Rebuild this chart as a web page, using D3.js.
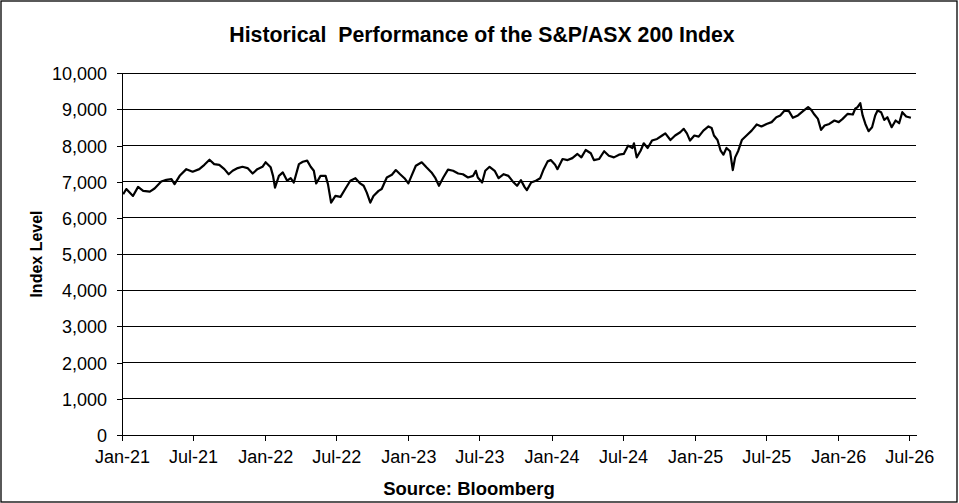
<!DOCTYPE html>
<html>
<head>
<meta charset="utf-8">
<script src="https://cdn.jsdelivr.net/npm/d3@7"></script>
<style>
  body { margin: 0; background: #fff; }
  text { font-family: "Liberation Sans", Arial, sans-serif; fill: #000; }
</style>
</head>
<body>
<div id="chart"></div>
<script>
// S&P/ASX 200 index level
const dates = [
  "2021-01-04","2021-01-12","2021-01-29","2021-02-11","2021-02-24","2021-03-13","2021-03-25","2021-04-11","2021-04-24","2021-05-07",
  "2021-05-15","2021-05-28","2021-06-14","2021-06-30","2021-07-17","2021-07-30","2021-08-12","2021-08-24","2021-09-06","2021-09-19",
  "2021-09-30","2021-10-10","2021-10-23","2021-11-04","2021-11-17","2021-11-30","2021-12-12","2021-12-25","2022-01-02","2022-01-15",
  "2022-01-21","2022-01-26","2022-02-05","2022-02-15","2022-02-26","2022-03-07","2022-03-15","2022-03-28","2022-04-07","2022-04-18",
  "2022-04-27","2022-05-05","2022-05-11","2022-05-22","2022-06-04","2022-06-10","2022-06-18","2022-06-29","2022-07-12","2022-07-24",
  "2022-08-06","2022-08-19","2022-08-31","2022-09-09","2022-09-17","2022-09-26","2022-10-04","2022-10-17","2022-10-25","2022-11-07",
  "2022-11-20","2022-11-30","2022-12-11","2022-12-22","2023-01-01","2023-01-09","2023-01-20","2023-02-04","2023-02-16","2023-03-01",
  "2023-03-11","2023-03-20","2023-03-31","2023-04-12","2023-04-25","2023-05-08","2023-05-20","2023-06-02","2023-06-15","2023-06-22",
  "2023-06-27","2023-07-08","2023-07-16","2023-07-27","2023-08-09","2023-08-19","2023-09-01","2023-09-13","2023-09-24","2023-10-05",
  "2023-10-15","2023-10-24","2023-10-30","2023-11-10","2023-11-22","2023-12-03","2023-12-12","2023-12-22","2023-12-30","2024-01-10",
  "2024-01-16","2024-01-29","2024-02-11","2024-02-23","2024-03-07","2024-03-17","2024-03-28","2024-04-10","2024-04-18","2024-05-01",
  "2024-05-14","2024-05-26","2024-06-08","2024-06-21","2024-07-03","2024-07-14","2024-07-25","2024-07-29","2024-08-05","2024-08-15",
  "2024-08-23","2024-09-02","2024-09-13","2024-09-26","2024-10-09","2024-10-17","2024-10-30","2024-11-11","2024-11-24","2024-12-03",
  "2024-12-11","2024-12-19","2024-12-30","2025-01-10","2025-01-22","2025-02-04","2025-02-12","2025-02-18","2025-02-27","2025-03-07",
  "2025-03-14","2025-03-22","2025-03-31","2025-04-07","2025-04-13","2025-04-21","2025-04-30","2025-05-12","2025-05-25","2025-06-07",
  "2025-06-19","2025-07-02","2025-07-15","2025-07-27","2025-08-06","2025-08-17","2025-08-28","2025-09-07","2025-09-20","2025-10-03",
  "2025-10-16","2025-10-24","2025-11-01","2025-11-10","2025-11-18","2025-11-27","2025-12-09","2025-12-22","2026-01-02","2026-01-12",
  "2026-01-25","2026-02-07","2026-02-13","2026-02-19","2026-02-26","2026-03-04","2026-03-11","2026-03-19","2026-03-28","2026-04-05",
  "2026-04-11","2026-04-20","2026-04-28","2026-05-06","2026-05-17","2026-05-27","2026-06-05","2026-06-13","2026-06-23","2026-07-05"
];
const values = [
  6657,6800,6610,6860,6750,6730,6815,7010,7055,7075,
  6935,7165,7350,7280,7350,7470,7610,7490,7470,7350,
  7210,7305,7380,7415,7380,7230,7350,7415,7540,7400,
  7165,6840,7165,7260,7030,7100,6980,7490,7555,7585,
  7415,7305,6955,7165,7165,6935,6425,6610,6585,6800,
  7030,7100,6955,6890,6700,6425,6610,6750,6800,7120,
  7195,7325,7210,7100,6955,7165,7445,7540,7400,7260,
  7100,6890,7120,7335,7305,7230,7210,7120,7165,7305,
  7120,6980,7305,7415,7305,7100,7210,7165,7010,6890,
  7045,6860,6770,6980,7030,7100,7350,7565,7600,7470,
  7350,7630,7600,7655,7770,7675,7880,7790,7600,7630,
  7845,7720,7675,7750,7770,8000,7935,8065,7675,7860,
  8065,7935,8140,8185,8280,8340,8155,8280,8370,8465,
  8340,8140,8280,8250,8415,8530,8490,8280,8155,7860,
  7750,7935,7845,7325,7675,7860,8155,8280,8415,8585,
  8530,8600,8650,8785,8835,8970,8955,8770,8835,8955,
  9065,8990,8860,8740,8435,8555,8600,8695,8650,8740,
  8880,8860,9020,9065,9175,8835,8600,8400,8510,8835,
  8970,8925,8710,8785,8510,8695,8620,8925,8805,8770
];
const yTicks = [0,1000,2000,3000,4000,5000,6000,7000,8000,9000,10000];
const xTickDates = ["2021-01-01","2021-07-01","2022-01-01","2022-07-01","2023-01-01","2023-07-01",
  "2024-01-01","2024-07-01","2025-01-01","2025-07-01","2026-01-01","2026-07-01"];
const xDomain = ["2021-01-01","2026-07-18"];
const title = "Historical  Performance of the S&P/ASX 200 Index";
const yTitle = "Index Level";
const source = "Source: Bloomberg";

const width = 959, height = 503;
const margin = ({ top: 73.3, right: 43, bottom: 68, left: 122 });
const parse = d3.timeParse("%Y-%m-%d");

const data = dates.map((d, i) => ({ date: parse(d), value: values[i] }));

const svg = d3.select("#chart").append("svg")
  .attr("width", width)
  .attr("height", height)
  .attr("viewBox", [0, 0, width, height]);

svg.append("rect")
  .attr("x", 1).attr("y", 1)
  .attr("width", width - 3).attr("height", height - 2)
  .attr("fill", "#fff").attr("stroke", "#000").attr("stroke-width", 1.3);

const x = d3.scaleTime()
  .domain(xDomain.map(parse))
  .range([margin.left, width - margin.right]);

const y = d3.scaleLinear()
  .domain([0, 10000])
  .range([height - margin.bottom, margin.top]);

// horizontal gridlines
svg.append("g")
  .selectAll("line")
  .data(yTicks.filter(d => d > 0))
  .join("line")
  .attr("x1", margin.left).attr("x2", width - margin.right)
  .attr("y1", d => y(d)).attr("y2", d => y(d))
  .attr("stroke", "#000").attr("stroke-width", 1)
  .attr("shape-rendering", "crispEdges");

const xAxis = svg.append("g")
  .attr("transform", `translate(0,${height - margin.bottom})`)
  .call(d3.axisBottom(x)
    .tickValues(xTickDates.map(parse))
    .tickFormat(d3.timeFormat("%b-%y"))
    .tickSize(6).tickSizeOuter(0).tickPadding(9));

const yAxis = svg.append("g")
  .attr("transform", `translate(${margin.left},0)`)
  .call(d3.axisLeft(y)
    .tickValues(yTicks)
    .tickFormat(d3.format(","))
    .tickSize(5).tickSizeOuter(0).tickPadding(10));

[xAxis, yAxis].forEach(g => {
  g.selectAll("path, line").attr("stroke", "#000").attr("shape-rendering", "crispEdges");
  g.selectAll("text").style("font-size", "18px").attr("fill", "#000");
});
yAxis.selectAll("text").attr("dy", "0.36em");

const line = d3.line()
  .x(d => x(d.date))
  .y(d => y(d.value));

svg.append("path")
  .datum(data)
  .attr("d", line)
  .attr("fill", "none")
  .attr("stroke", "#000")
  .attr("stroke-width", 2.2)
  .attr("stroke-linejoin", "round");

svg.append("text")
  .attr("x", 482).attr("y", 42)
  .attr("text-anchor", "middle")
  .style("font-size", "21.3px").style("font-weight", "bold").style("white-space", "pre")
  .text(title);

svg.append("text")
  .attr("transform", "translate(41.5,254) rotate(-90)")
  .attr("text-anchor", "middle")
  .style("font-size", "16px").style("font-weight", "bold")
  .text(yTitle);

svg.append("text")
  .attr("x", 469).attr("y", 495)
  .attr("text-anchor", "middle")
  .style("font-size", "18.5px").style("font-weight", "bold")
  .text(source);
</script>
</body>
</html>
